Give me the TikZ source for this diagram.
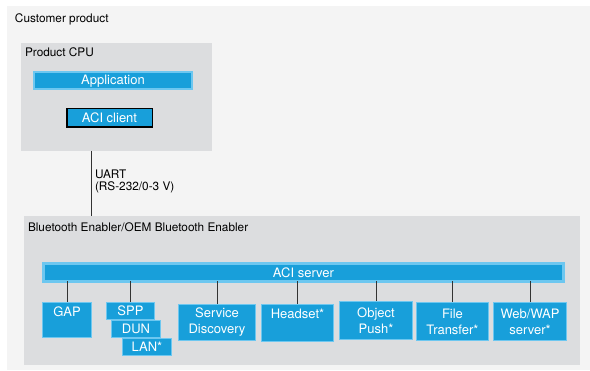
\documentclass[tikz,border=0pt]{standalone}
\usepackage{fontspec}
\setmainfont{TeX Gyre Heros}
\usetikzlibrary{positioning}

\definecolor{custbg}{HTML}{F4F4F4}
\definecolor{cpubg}{HTML}{DCDDDF}
\definecolor{aciblue}{HTML}{189FDA}
\definecolor{aciedge}{HTML}{6DC7F0}
\definecolor{linegray}{HTML}{333333}

\begin{document}
\begin{tikzpicture}[x=1pt,y=-1pt,
                    every node/.style={inner sep=0pt,outer sep=0pt}]
  \tikzstyle{area}=[fill=custbg]
  \tikzstyle{cpu}=[fill=cpubg]
  \tikzstyle{head}=[font=\fontsize{11.8}{12}\selectfont,text=black,align=left]
  \tikzstyle{bar}=[fill=aciblue,draw=aciedge,line width=2pt,text=white,
                   font=\fontsize{13}{15}\selectfont]
  \tikzstyle{mod}=[fill=aciblue,draw=aciedge,line width=1.2pt,text=white,
                   align=center,font=\fontsize{13}{16}\selectfont]
  \tikzstyle{toplbl}=[anchor=north,text=white,font=\fontsize{13}{16}\selectfont]
  \tikzstyle{wire}=[draw=linegray,line width=0.8pt]

  \fill[white] (0,0) rectangle (590,371);
  \useasboundingbox (0,0) rectangle (590,371);

  % containers
  \node[area,minimum width=583pt,minimum height=364pt] (cust) at (298.5,188) {};
  \node[head,anchor=base west] (custlbl) at (15,23) {Customer product};

  \node[cpu,minimum width=191pt,minimum height=108pt] (cpu) at (116.5,97) {};
  \node[head,anchor=base west] (cpulbl) at (25,57) {Product CPU};

  \node[cpu,minimum width=556pt,minimum height=149pt] (bt) at (302,290.5) {};
  \node[head,anchor=base west] (btlbl) at (28,232) {Bluetooth Enabler/OEM Bluetooth Enabler};

  % host side
  \node[bar,minimum width=158pt,minimum height=17.5pt] (app) at (113,80.75) {Application};
  \node[bar,draw=black,line width=1.5pt,minimum width=85.5pt,minimum height=18.5pt]
       (client) at (109.5,118) {ACI client};

  \draw[wire] ([xshift=70pt]cpu.south west) -- ([xshift=67pt]bt.north west);
  \node[head,anchor=base west,font=\fontsize{11.8}{12}\selectfont] (uart) at (95,191)
       {UART\\(RS-232/0-3 V)};

  % enabler side
  \node[bar,line width=3pt,minimum width=520pt,minimum height=18pt] (aci) at (303.5,272.5) {ACI server};

  \node[mod,minimum width=49pt,minimum height=35pt,
        label={[toplbl,yshift=-4pt]north:GAP}] (gap) at (67,320) {};
  \node[mod,minimum width=48pt,minimum height=17pt] (spp) at (130.5,311) {SPP};
  \node[mod,minimum width=49pt,minimum height=17pt] (dun) at (136,329) {DUN};
  \node[mod,minimum width=49pt,minimum height=17pt] (lan) at (147,347) {LAN*};
  \node[mod,minimum width=77pt,minimum height=36pt] (sdp) at (217,322.5) {Service\\Discovery};
  \node[mod,minimum width=72pt,minimum height=37pt,
        label={[toplbl,yshift=-5pt]north:Headset*}] (headset) at (297.5,323) {};
  \node[mod,minimum width=73pt,minimum height=38pt] (opush) at (376,320.5) {Object\\Push*};
  \node[mod,minimum width=72pt,minimum height=38pt] (ftp) at (452.5,321.5) {File\\Transfer*};
  \node[mod,minimum width=73pt,minimum height=38pt] (web) at (530,321.5) {Web/WAP\\server*};

  \foreach \m in {gap,spp,sdp,headset,opush,ftp,web}
    \draw[wire] (aci.south -| \m.north) -- (\m.north);
\end{tikzpicture}
\end{document}
